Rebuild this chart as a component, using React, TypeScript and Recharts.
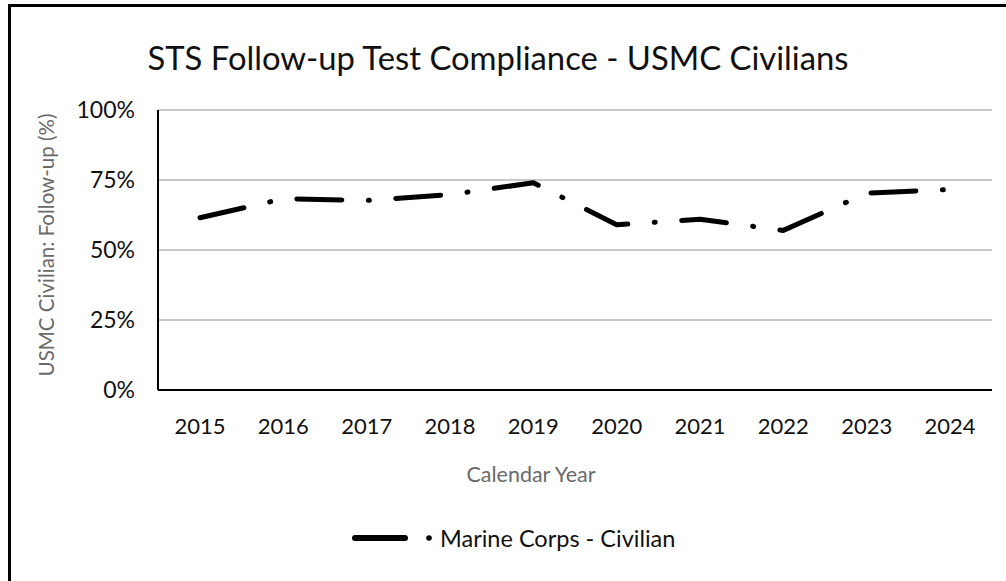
import React from 'react';
import { LineChart, Line, XAxis, YAxis, CartesianGrid } from 'recharts';

const years = ['2015', '2016', '2017', '2018', '2019', '2020', '2021', '2022', '2023', '2024'];
const compliance = [61.5, 68.3, 67.7, 69.8, 74, 59, 61, 57, 70.3, 71.6];
const yTicks = [0, 25, 50, 75, 100];
const seriesName = 'Marine Corps - Civilian';

const data = years.map((y, i) => ({ year: y, value: compliance[i] }));

const FONT = 'Lato, "Open Sans", sans-serif';

export default function App() {
  return (
    <div style={{ position: 'absolute', left: 0, top: 0, width: 1006, height: 581, background: '#fff', overflow: 'hidden' }}>
      <div style={{ position: 'absolute', left: 8, top: 4, width: 998, height: 3, background: '#000' }} />
      <div style={{ position: 'absolute', left: 8, top: 4, width: 3, height: 577, background: '#000' }} />
      <div style={{ position: 'absolute', left: 498, top: 57, transform: 'translate(-50%, -50%)', whiteSpace: 'nowrap', fontFamily: FONT, fontSize: 32.8, color: '#111' }}>
        STS Follow-up Test Compliance - USMC Civilians
      </div>
      <div style={{ position: 'absolute', left: 46, top: 245, transform: 'translate(-50%, -50%) rotate(-90deg)', whiteSpace: 'nowrap', fontFamily: FONT, fontSize: 20.5, color: '#6a6a6a' }}>
        USMC Civilian: Follow-up (%)
      </div>
      <div style={{ position: 'absolute', left: 531, top: 474, transform: 'translate(-50%, -50%)', whiteSpace: 'nowrap', fontFamily: FONT, fontSize: 21.5, color: '#6a6a6a' }}>
        Calendar Year
      </div>
      <div style={{ position: 'absolute', left: 352, top: 538, transform: 'translateY(-50%)', display: 'flex', alignItems: 'center', fontFamily: FONT, fontSize: 23.5, color: '#111', whiteSpace: 'nowrap' }}>
        <svg width={88} height={12}>
          <line x1={3} y1={6} x2={53} y2={6} stroke="#000" strokeWidth={6} strokeLinecap="round" />
          <circle cx={77} cy={6} r={2.8} fill="#000" />
        </svg>
        <span>{seriesName}</span>
      </div>
      <div style={{ position: 'absolute', left: 0, top: 0 }}>
        <LineChart width={1006} height={581} data={data} margin={{ top: 110, right: 14, bottom: 0, left: 0 }}>
          <CartesianGrid horizontal vertical={false} stroke="#c8c8c8" strokeWidth={2} />
          <XAxis
            dataKey="year"
            padding={{ left: 42, right: 42 }}
            axisLine={{ stroke: '#000', strokeWidth: 2 }}
            tickLine={false}
            tickSize={0}
            tickMargin={28}
            height={191}
            interval={0}
            tick={{ fontFamily: FONT, fontSize: 22, fill: '#111' }}
          />
          <YAxis
            domain={[0, 100]}
            ticks={yTicks}
            tickFormatter={(v: number) => `${v}%`}
            width={158}
            axisLine={{ stroke: '#000', strokeWidth: 2 }}
            tickLine={false}
            tickSize={0}
            tickMargin={23}
            tick={{ fontFamily: FONT, fontSize: 23, fill: '#111' }}
          />
          <Line
            type="linear"
            dataKey="value"
            name={seriesName}
            stroke="#000"
            strokeWidth={5}
            strokeDasharray="45 26.5 1 26.5"
            strokeLinecap="round"
            strokeLinejoin="round"
            dot={false}
            activeDot={false}
            isAnimationActive={false}
          />
        </LineChart>
      </div>
    </div>
  );
}
